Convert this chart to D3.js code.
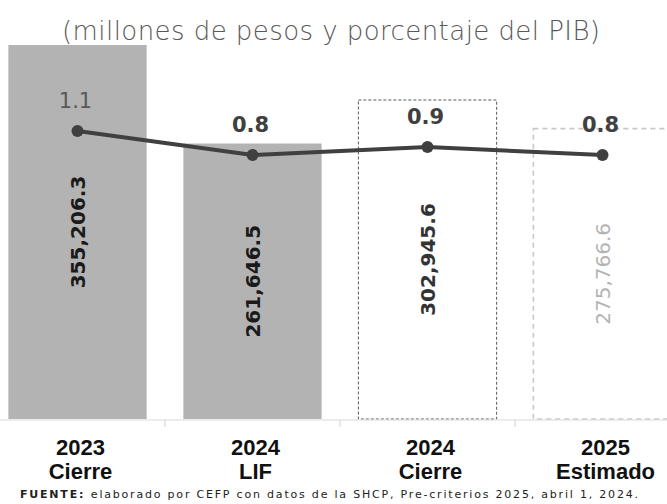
<!DOCTYPE html>
<head>
    <meta charset="utf-8">
    <title>Ingresos</title>
    <script src="https://cdn.jsdelivr.net/npm/d3@7"></script>
</head>
<style>
    body { margin: 0; background: white; }
</style>
<body>
<svg id="chart" width="667" height="504"></svg>
</body>
<script>
    // data
    var years = ["2023", "2024", "2024", "2025"]
    var kinds = ["Cierre", "LIF", "Cierre", "Estimado"]
    var montos = [355206.3, 261646.5, 302945.6, 275766.6]
    var pib = [1.1, 0.8, 0.9, 0.8]
    var pibLabels = ["1.1", "0.8", "0.9", "0.8"]

    var svg = d3.select("#chart")
    var base = 419

    var x = d3.scaleBand().domain(d3.range(4)).range([-10, 690]).paddingInner(0.21).paddingOuter(0.105)
    var y = d3.scaleLinear().domain([0, 355206.3]).range([base, 45])
    var y2 = d3.scaleLinear().domain([0.8, 1.1]).range([155, 131])

    svg.append("text")
        .attr("x", 331).attr("y", 40)
        .attr("text-anchor", "middle")
        .style("font", "26px 'DejaVu Sans'")
        .style("font-weight", "200")
        .attr("fill", "#595959")
        .attr("textLength", 538)
        .text("(millones de pesos y porcentaje del PIB)")

    var fills = ["#b3b3b3", "#b3b3b3", "white", "white"]
    var strokes = ["none", "none", "#595959", "#c8c8c8"]
    var dashes = ["", "", "3,2", "5,4"]

    svg.selectAll("rect.bar")
        .data(montos)
        .enter()
        .append("rect")
        .attr("class", "bar")
        .attr("x", (d, i) => x(i))
        .attr("y", d => y(d))
        .attr("width", x.bandwidth())
        .attr("height", d => base - y(d))
        .attr("fill", (d, i) => fills[i])
        .attr("stroke", (d, i) => strokes[i])
        .attr("stroke-width", (d, i) => i == 3 ? 1.6 : 1)
        .attr("stroke-dasharray", (d, i) => dashes[i])

    // axis
    svg.append("line")
        .attr("x1", 0).attr("x2", 667)
        .attr("y1", base + 1).attr("y2", base + 1)
        .attr("stroke", "#d9d9d9").attr("stroke-width", 1.2)
    for (var i = 1; i < 4; i++) {
        var tx = x(i) - x.step() * x.paddingInner() / 2
        svg.append("line")
            .attr("x1", tx).attr("x2", tx)
            .attr("y1", base + 1).attr("y2", base + 8)
            .attr("stroke", "#d9d9d9").attr("stroke-width", 1.2)
    }

    // rotated values
    var valColors = ["#1a1a1a", "#1a1a1a", "#333333", "#b3b3b3"]
    svg.selectAll("text.val")
        .data(montos)
        .enter()
        .append("text")
        .attr("class", "val")
        .attr("transform", (d, i) => "translate(" + (x(i) + x.bandwidth() / 2 + 7) + "," + ((y(d) + base) / 2) + ") rotate(-90)")
        .attr("text-anchor", "middle")
        .style("font", "bold 20px 'DejaVu Sans'")
        .style("font-weight", (d, i) => i == 3 ? "normal" : "bold")
        .attr("fill", (d, i) => valColors[i])
        .text(d => d3.format(",.1f")(d))

    // line
    var line = d3.line()
        .x((d, i) => x(i) + x.bandwidth() / 2)
        .y(d => y2(d))
    svg.append("path")
        .datum(pib)
        .attr("d", line)
        .attr("fill", "none")
        .attr("stroke", "#404040")
        .attr("stroke-width", 4)
    svg.selectAll("circle.pt")
        .data(pib)
        .enter()
        .append("circle")
        .attr("cx", (d, i) => x(i) + x.bandwidth() / 2)
        .attr("cy", d => y2(d))
        .attr("r", 6)
        .attr("fill", "#404040")

    var pctColors = ["#595959", "#404040", "#404040", "#404040"]
    svg.selectAll("text.pct")
        .data(pib)
        .enter()
        .append("text")
        .attr("x", (d, i) => x(i) + x.bandwidth() / 2 - 2)
        .attr("y", d => y2(d) - 23)
        .attr("text-anchor", "middle")
        .style("font", "bold 21px 'DejaVu Sans'")
        .style("font-weight", (d, i) => i == 0 ? "normal" : "bold")
        .attr("fill", (d, i) => pctColors[i])
        .text((d, i) => pibLabels[i])

    // category labels
    var cats = svg.selectAll("g.cat")
        .data(years)
        .enter()
        .append("g")
        .attr("transform", (d, i) => "translate(" + (x(i) + x.bandwidth() / 2 + 3) + ",0)")
    cats.append("text")
        .attr("y", 455).attr("text-anchor", "middle")
        .style("font", "bold 22px 'Liberation Sans'")
        .attr("fill", "#111")
        .text(d => d)
    cats.append("text")
        .attr("y", 479).attr("text-anchor", "middle")
        .style("font", "bold 22px 'Liberation Sans'")
        .attr("fill", "#111")
        .text((d, i) => kinds[i])

    var src = svg.append("text")
        .attr("x", 20).attr("y", 498)
        .style("font", "11px 'DejaVu Sans'")
        .attr("fill", "#222")
        .attr("textLength", 618)
    src.append("tspan").style("font-weight", "bold").text("FUENTE: ")
    src.append("tspan").text("elaborado por CEFP con datos de la SHCP, Pre-criterios 2025, abril 1, 2024.")
</script>
</html>
